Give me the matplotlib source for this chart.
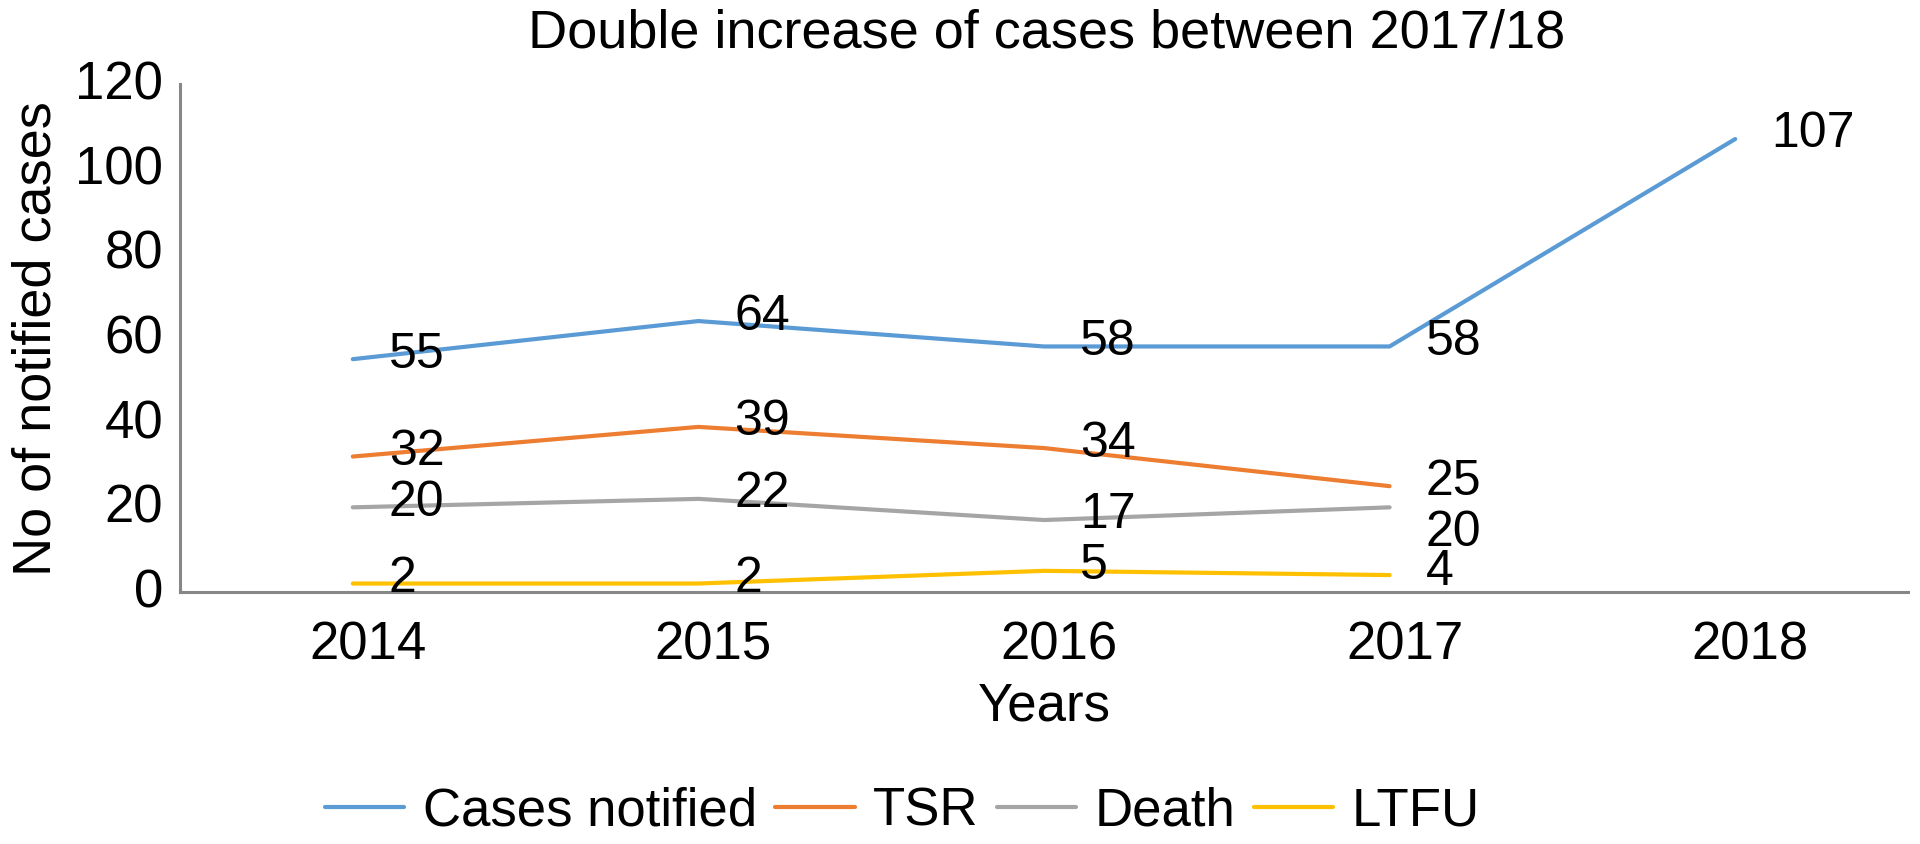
import matplotlib.pyplot as plt
from matplotlib.transforms import ScaledTranslation

plt.rcParams['font.family'] = ['Liberation Sans', 'DejaVu Sans']

# Data
years = ['2014', '2015', '2016', '2017', '2018']
cases_notified = [55, 64, 58, 58, 107]
tsr = [32, 39, 34, 25]
death = [20, 22, 17, 20]
ltfu = [2, 2, 5, 4]

series = [
    ('Cases notified', cases_notified, '#5B9BD5'),
    ('TSR', tsr, '#ED7D31'),
    ('Death', death, '#A5A5A5'),
    ('LTFU', ltfu, '#FFC000'),
]

fig = plt.figure(figsize=(19.2, 8.45), dpi=100)
ax = fig.add_axes([180 / 1920, 1 - 593 / 845, 1728 / 1920, 508 / 845])

for name, vals, col in series:
    x = list(range(len(vals)))
    ax.plot(x, vals, color=col, linewidth=3.0, label=name, solid_capstyle='round')
    for i, v in enumerate(vals):
        dy = 4
        if name == 'Death' and i == 3:
            dy = -18  # label pushed down in the original to avoid overlap
        if name == 'LTFU' and i == 3:
            dy = 3
        ax.annotate(str(v), (i, v), xytext=(26, dy), textcoords='offset points',
                    ha='left', va='center', fontsize=36)

ax.set_xlim(-0.5, 4.5)
ax.set_ylim(0, 120)
ax.set_xticks(range(len(years)))
ax.set_xticklabels(years)
ax.set_yticks(range(0, 121, 20))
ax.tick_params(axis='both', length=0, labelsize=38)
ax.tick_params(axis='x', pad=20)
ax.tick_params(axis='y', pad=12)
for lab in ax.get_xticklabels():
    lab.set_transform(lab.get_transform() + ScaledTranslation(0.15, 0, fig.dpi_scale_trans))
for lab in ax.get_yticklabels():
    lab.set_transform(lab.get_transform() + ScaledTranslation(0, 0.05, fig.dpi_scale_trans))

for s in ['top', 'right']:
    ax.spines[s].set_visible(False)
for s in ['left', 'bottom']:
    ax.spines[s].set_color('#878787')
    ax.spines[s].set_linewidth(2.2)

ax.set_xlabel('Years', fontsize=38, labelpad=8)
ax.set_ylabel('No of notified cases', fontsize=39, labelpad=10)
fig.text(0.545, 1 - 33 / 845, 'Double increase of cases between 2017/18',
         ha='center', va='center', fontsize=39)

fig.legend(loc='center', bbox_to_anchor=(0.47, 1 - 812 / 845), ncol=4, frameon=False,
           fontsize=38, handlelength=1.5, handletextpad=0.35, columnspacing=0.35,
           borderaxespad=0)

fig.savefig('out.png', dpi=100)
